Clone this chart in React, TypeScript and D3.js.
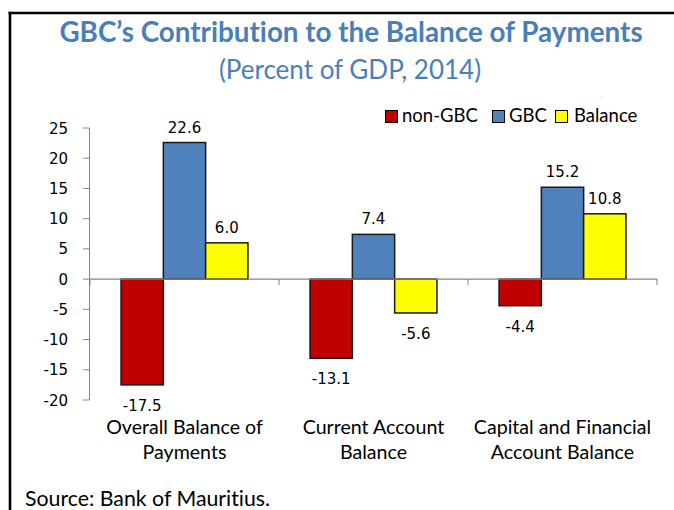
import React from "react";
import * as d3 from "d3";

const categories = ["Overall Balance of Payments", "Current Account Balance", "Capital and Financial Account Balance"];
const categoryLines = [["Overall Balance of", "Payments"], ["Current Account", "Balance"], ["Capital and Financial", "Account Balance"]];
const seriesNames = ["non-GBC", "GBC", "Balance"];
const nonGBC = [-17.5, -13.1, -4.4];
const gbc = [22.6, 7.4, 15.2];
const balance = [6.0, -5.6, 10.8];
const seriesColors = ["#C00000", "#4F81BD", "#FFFF00"];
const yTicks = [25, 20, 15, 10, 5, 0, -5, -10, -15, -20];

const W = 674;
const H = 510;

export default function App() {
  const seriesValues = [nonGBC, gbc, balance];
  const x0 = d3.scaleBand<string>().domain(categories).range([90, 657]).paddingInner(0).paddingOuter(0);
  const x1 = d3.scaleBand<string>().domain(seriesNames).range([0, x0.bandwidth()]).paddingInner(0).paddingOuter(0.734);
  const y = d3.scaleLinear().domain([-20, 25]).range([400, 128]);
  const axisColor = "#868686";
  const calibri = "Lato, 'Open Sans', sans-serif";
  const verdana = "'DejaVu Sans', Verdana, sans-serif";
  const legendX = [385, 492, 555];
  const legendTextX = [402, 509, 574];
  const noLig = { fontVariantLigatures: "none" as const, fontFeatureSettings: "'liga' 0" };

  return (
    <svg width={W} height={H} style={{ position: "absolute", left: 0, top: 0, background: "#fff" }}>
      <rect x={0} y={0} width={W} height={H} fill="#fff" />
      {/* frame */}
      <line x1={8.5} y1={13} x2={W} y2={13} stroke="#000" strokeWidth={2.6} />
      <line x1={10} y1={11.7} x2={10} y2={H} stroke="#000" strokeWidth={2.6} />

      {/* titles */}
      <text x={351} y={42} textAnchor="middle" fontFamily={calibri} fontWeight="bold" fontSize={27.8} fill="#4A7EBB" style={noLig}>
        GBC’s Contribution to the Balance of Payments
      </text>
      <text x={350} y={79} textAnchor="middle" fontFamily={calibri} fontSize={26} fill="#4A7EBB" style={noLig}>
        (Percent of GDP, 2014)
      </text>

      {/* legend */}
      {seriesNames.map((s, i) => (
        <g key={s}>
          <rect x={legendX[i] + 0.5} y={110.5} width={12} height={12} fill={seriesColors[i]} stroke="#000" strokeWidth={1} />
          <text x={legendTextX[i]} y={122} fontFamily={calibri} fontSize={18.5} fill="#000">{s}</text>
        </g>
      ))}

      {/* y axis */}
      <line x1={89.5} y1={y(25)} x2={89.5} y2={y(-20)} stroke={axisColor} strokeWidth={1} />
      {yTicks.map((t) => (
        <g key={t}>
          <line x1={83} y1={y(t)} x2={89.5} y2={y(t)} stroke={axisColor} strokeWidth={1} />
          <text x={68} y={y(t) + 5.5} textAnchor="end" fontFamily={verdana} fontSize={15} fill="#000">{t}</text>
        </g>
      ))}

      {/* bars */}
      {categories.map((c, ci) => (
        <g key={c}>
          {seriesNames.map((s, si) => {
            const v = seriesValues[si][ci];
            const bx = (x0(c) as number) + (x1(s) as number);
            const top = y(Math.max(0, v));
            const bot = y(Math.min(0, v));
            return (
              <g key={s}>
                <rect x={bx} y={top} width={x1.bandwidth()} height={bot - top} fill={seriesColors[si]} stroke="#1a1a1a" strokeWidth={1.5} />
                <text
                  x={bx + x1.bandwidth() / 2}
                  y={v >= 0 ? top - 10 : bot + 26}
                  textAnchor="middle"
                  fontFamily={verdana}
                  fontSize={15}
                  fill="#000"
                >
                  {v.toFixed(1)}
                </text>
              </g>
            );
          })}
        </g>
      ))}

      {/* zero line and category ticks */}
      <line x1={89.5} y1={y(0)} x2={657} y2={y(0)} stroke={axisColor} strokeWidth={1.2} />
      {[...categories.map((c) => x0(c) as number), 657].map((bx, i) => (
        <line key={i} x1={bx} y1={y(0)} x2={bx} y2={y(0) + 6} stroke={axisColor} strokeWidth={1} />
      ))}

      {/* category labels */}
      {categories.map((c, ci) => (
        <text key={c} textAnchor="middle" fontFamily={calibri} fontSize={19.6} fill="#000">
          {categoryLines[ci].map((ln, li) => (
            <tspan key={li} x={(x0(c) as number) + x0.bandwidth() / 2} y={434 + li * 25}>{ln}</tspan>
          ))}
        </text>
      ))}

      {/* source */}
      <text x={25} y={506} fontFamily={calibri} fontSize={21.3} fill="#000" style={noLig}>Source: Bank of Mauritius.</text>
    </svg>
  );
}
